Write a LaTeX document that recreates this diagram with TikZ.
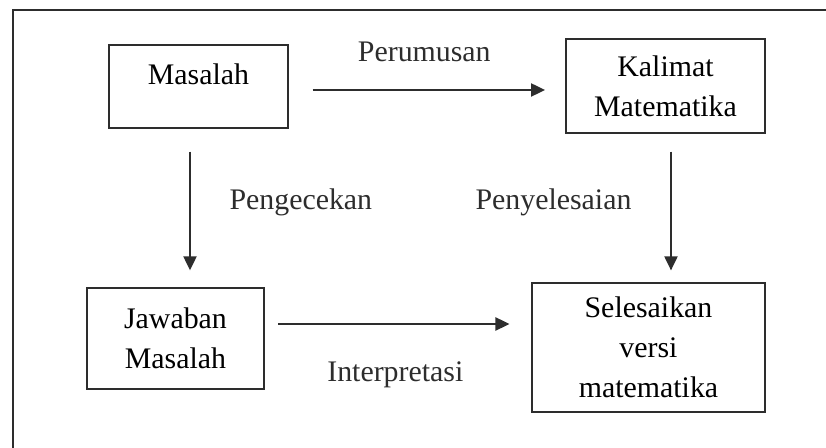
\documentclass[tikz,border=0pt]{standalone}
\usepackage{fontspec}
\setmainfont{Liberation Serif}
\usetikzlibrary{arrows.meta}
\definecolor{mydark}{RGB}{45,45,45}
\newcommand{\diafont}{\fontsize{17}{22.7}\selectfont}
\tikzset{
  box/.style={rectangle, draw=mydark, line width=1.1pt, align=center,
    inner sep=0pt, font=\diafont},
  arrow/.style={-{Triangle[length=8pt, width=7.5pt]}, line width=1pt, color=mydark},
  tag/.style={inner sep=0pt, font=\diafont},
  frame/.style={line width=1.1pt, color=mydark}
}

\begin{document}
\begin{tikzpicture}[x=0.02cm, y=-0.02cm]
  \useasboundingbox (0,0) rectangle (826,448);
  \clip (0,0) rectangle (826,448);
  % outer frame, cut off at right and bottom
  \draw[frame] (840,10) -- (13,10) -- (13,460);

  % boxes
  \node[box, minimum width=101.5pt, minimum height=47pt, text depth=14.5pt] (masalah) at (198.5,86.5) {Masalah};
  \node[box, minimum width=113.4pt, minimum height=53.3pt] (kalimat) at (665.5,86) {Kalimat\\Matematika};
  \node[box, minimum width=101pt, minimum height=57.3pt] (jawaban) at (175.5,338.5) {Jawaban\\Masalah};
  \node[box, minimum width=132.1pt, minimum height=73.1pt] (selesai) at (648.5,347.5) {Selesaikan\\versi\\matematika};

  % connectors
  \draw[arrow, shorten <=13.6pt, shorten >=11.3pt] (masalah.east |- 0,90) -- (kalimat.west |- 0,90)
    node[tag, midway, anchor=base, yshift=16.4pt, xshift=-1.4pt] (perumusan) {Perumusan};
  \draw[arrow, shorten <=13pt, shorten >=9.6pt] (190,0 |- masalah.south) -- (190,0 |- jawaban.north)
    node[tag, midway, anchor=base west, xshift=22pt, yshift=-1.1pt] (cek) {Pengecekan};
  \draw[arrow, shorten <=10.2pt, shorten >=6.8pt] (671,0 |- kalimat.south) -- (671,0 |- selesai.north)
    node[tag, midway, anchor=base east, xshift=-22pt, yshift=-1.1pt] (penyelesaian) {Penyelesaian};
  \draw[arrow, shorten <=7.4pt, shorten >=12.5pt] (jawaban.east |- 0,324) -- (selesai.west |- 0,324)
    node[tag, midway, anchor=base, yshift=-32.9pt, xshift=-1.7pt] (interpretasi) {Interpretasi};
\end{tikzpicture}
\end{document}
